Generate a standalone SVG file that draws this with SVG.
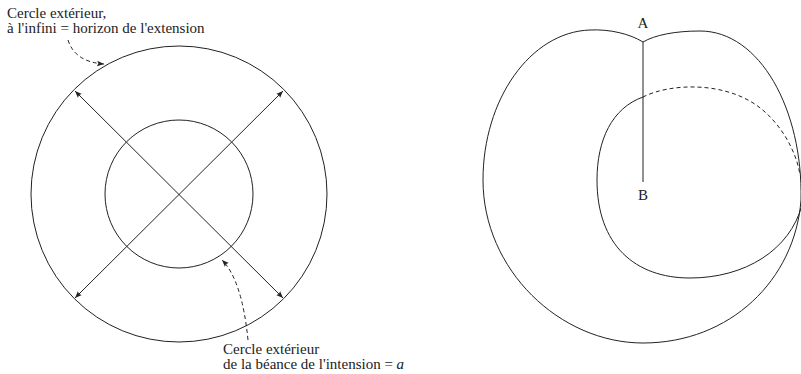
<svg xmlns="http://www.w3.org/2000/svg" width="801" height="374" viewBox="0 0 801 374">
<style>
.ln{fill:none;stroke:#222;stroke-width:1}
.ds{fill:none;stroke:#222;stroke-width:1;stroke-dasharray:4,3}
.t{font-family:"Liberation Serif","Times New Roman",serif;font-size:15px;fill:#222}
</style>
<defs>
<marker id="ah" viewBox="0 0 10 10" refX="10" refY="5" markerWidth="7" markerHeight="7" markerUnits="userSpaceOnUse" orient="auto-start-reverse">
<path d="M0,1 L10,5 L0,9 L2,5 Z" fill="#222"/>
</marker>
</defs>
<rect width="801" height="374" fill="#fff"/>
<g id="outer-circle"><circle class="ln" cx="179" cy="194" r="148"/></g>
<g id="inner-circle"><circle class="ln" cx="179" cy="194" r="74"/></g>
<g id="label-outer"><text class="t" x="7" y="18">Cercle extérieur,</text><text class="t" x="7" y="32.5">à l'infini = horizon de l'extension</text></g>
<g id="label-inner"><text class="t" x="223" y="354">Cercle extérieur</text><text class="t" x="223" y="368.5">de la béance de l'intension = <tspan font-style="italic">a</tspan></text></g>
<g id="torus">
<path class="ln" d="M643,42 C630,34 610,29 590,30 C530,32 483,100 483,180 C483,270 560,343 643,343 C730,343 795,280 801,200 C803,110 760,31 700,31 C675,31 655,35 643,42 Z"/>
<path class="ln" d="M643,97 C612,108 597,140 597,180 C597,245 635,278 690,278 C745,278 790,250 802,205"/>
<path class="ds" d="M643,97 C670,83 730,80 765,112 C785,130 797,155 800,175"/>
</g>
<g id="label-A"><text class="t" x="643" y="28" text-anchor="middle">A</text></g>
<g id="label-B"><text class="t" x="643" y="200" text-anchor="middle">B</text></g>
<g id="connectors">
<line class="ln" x1="75" y1="91" x2="283" y2="298" marker-start="url(#ah)" marker-end="url(#ah)"/>
<line class="ln" x1="283" y1="91" x2="75" y2="298" marker-start="url(#ah)" marker-end="url(#ah)"/>
<path class="ds" d="M68,40 Q75,62 104,64" marker-end="url(#ah)"/>
<path class="ds" d="M248,340 Q242,280 222,260" marker-end="url(#ah)"/>
<line class="ln" x1="643" y1="42" x2="643" y2="182"/>
</g>
</svg>
